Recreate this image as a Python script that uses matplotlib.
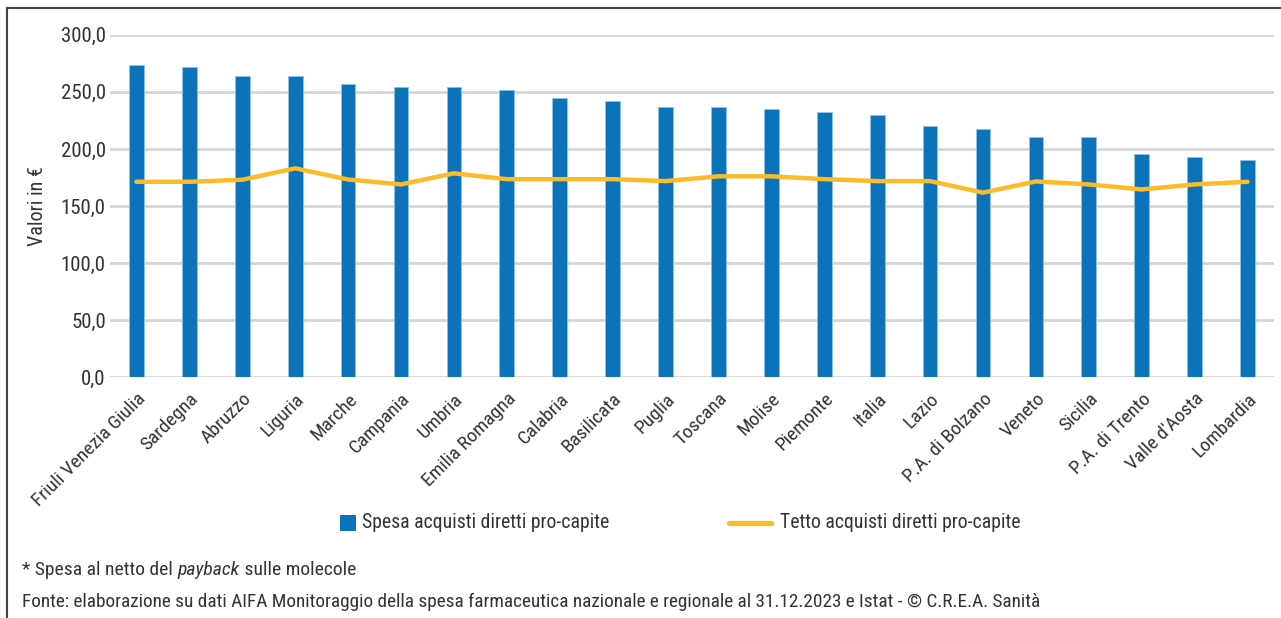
import matplotlib
matplotlib.use("Agg")
import matplotlib.pyplot as plt
from matplotlib.lines import Line2D
from matplotlib.patches import Rectangle

plt.rcParams['font.family'] = ['Roboto Condensed', 'Liberation Sans', 'DejaVu Sans']

categories = ["Friuli Venezia Giulia", "Sardegna", "Abruzzo", "Liguria", "Marche",
              "Campania", "Umbria", "Emilia Romagna", "Calabria", "Basilicata",
              "Puglia", "Toscana", "Molise", "Piemonte", "Italia", "Lazio",
              "P.A. di Bolzano", "Veneto", "Sicilia", "P.A. di Trento",
              "Valle d'Aosta", "Lombardia"]
spesa = [273.7, 271.5, 263.8, 263.8, 256.6, 254.2, 254.2, 251.6, 244.3, 241.9,
         237.0, 237.0, 234.7, 232.0, 229.7, 219.8, 217.4, 210.2, 210.2, 195.4,
         193.1, 190.5]
tetto = [171.2, 171.2, 173.0, 183.0, 173.2, 168.9, 178.6, 173.5, 173.5, 173.5,
         171.8, 176.0, 176.0, 173.5, 171.8, 171.8, 161.7, 171.5, 168.9, 164.5,
         168.9, 171.2]
yticks = [0, 50, 100, 150, 200, 250, 300]
legend_labels = ["Spesa acquisti diretti pro-capite", "Tetto acquisti diretti pro-capite"]

blue = "#0A73BA"
yellow = "#FBBC2A"
txt = "#333333"
W, H = 1281, 618

fig = plt.figure(figsize=(W/100, H/100), dpi=100)
ax = fig.add_axes([110/W, 1 - 377.3/H, (1274-110)/W, (377.3-34.7)/H])

x = list(range(len(categories)))
ax.bar(x, spesa, width=0.28, color=blue, edgecolor="#8FC3E6", linewidth=0.6, zorder=3)
ax.plot(x, tetto, color=yellow, linewidth=3.2, solid_capstyle='round', zorder=4)

ax.set_xlim(-0.5, len(categories) - 0.5)
ax.set_ylim(0, 300)
ax.set_yticks(yticks)
ax.set_yticklabels([f"{v:.1f}".replace('.', ',') for v in yticks], fontsize=15, color=txt)
ax.yaxis.grid(True, color="#d6d6d6", linewidth=2, zorder=0)
ax.set_axisbelow(True)
ax.tick_params(axis='y', length=0, pad=3)
ax.tick_params(axis='x', length=0, pad=9)
ax.set_xticks(x)
ax.set_xticklabels(categories, rotation=45, ha='right', rotation_mode='anchor',
                   fontsize=14, color=txt)
for s in ax.spines.values():
    s.set_visible(False)
ax.set_ylabel("Valori in €", fontsize=14.5, color=txt)
ax.yaxis.set_label_coords((47 - 110) / (1274 - 110), 0.5)

# Legend (manual)
ly = 1 - 523/H
fig.add_artist(Rectangle((340/W, ly - 8/H), 16/W, 16/H, facecolor=blue, edgecolor='none',
                         transform=fig.transFigure))
fig.text(362/W, ly, legend_labels[0], fontsize=14.2, color=txt, va='center', ha='left')
fig.add_artist(Line2D([729/W, 771/W], [ly, ly], color=yellow, linewidth=3.8,
                      solid_capstyle='round'))
fig.text(780/W, ly, legend_labels[1], fontsize=14.2, color=txt, va='center', ha='left')

# Footnotes
renderer = fig.canvas.get_renderer()
fy = 1 - 570/H
parts = [("* Spesa al netto del ", 'normal'), ("payback", 'italic'), (" sulle molecole", 'normal')]
xp = 22
for s, st in parts:
    t = fig.text(xp/W, fy, s, fontsize=14, color=txt, va='center', style=st)
    bb = t.get_window_extent(renderer=renderer)
    xp += bb.width
fig.text(22/W, 1 - 602/H,
         "Fonte: elaborazione su dati AIFA Monitoraggio della spesa farmaceutica nazionale e regionale al 31.12.2023 e Istat - © C.R.E.A. Sanità",
         fontsize=13.9, color=txt, va='center')

# Frame lines (top and left)
fig.add_artist(Line2D([7/W, 1], [1 - 8/H, 1 - 8/H], color="#444444", linewidth=1.5))
fig.add_artist(Line2D([7/W, 7/W], [0, 1 - 8/H], color="#444444", linewidth=1.5))

fig.savefig("out.png", dpi=100)
